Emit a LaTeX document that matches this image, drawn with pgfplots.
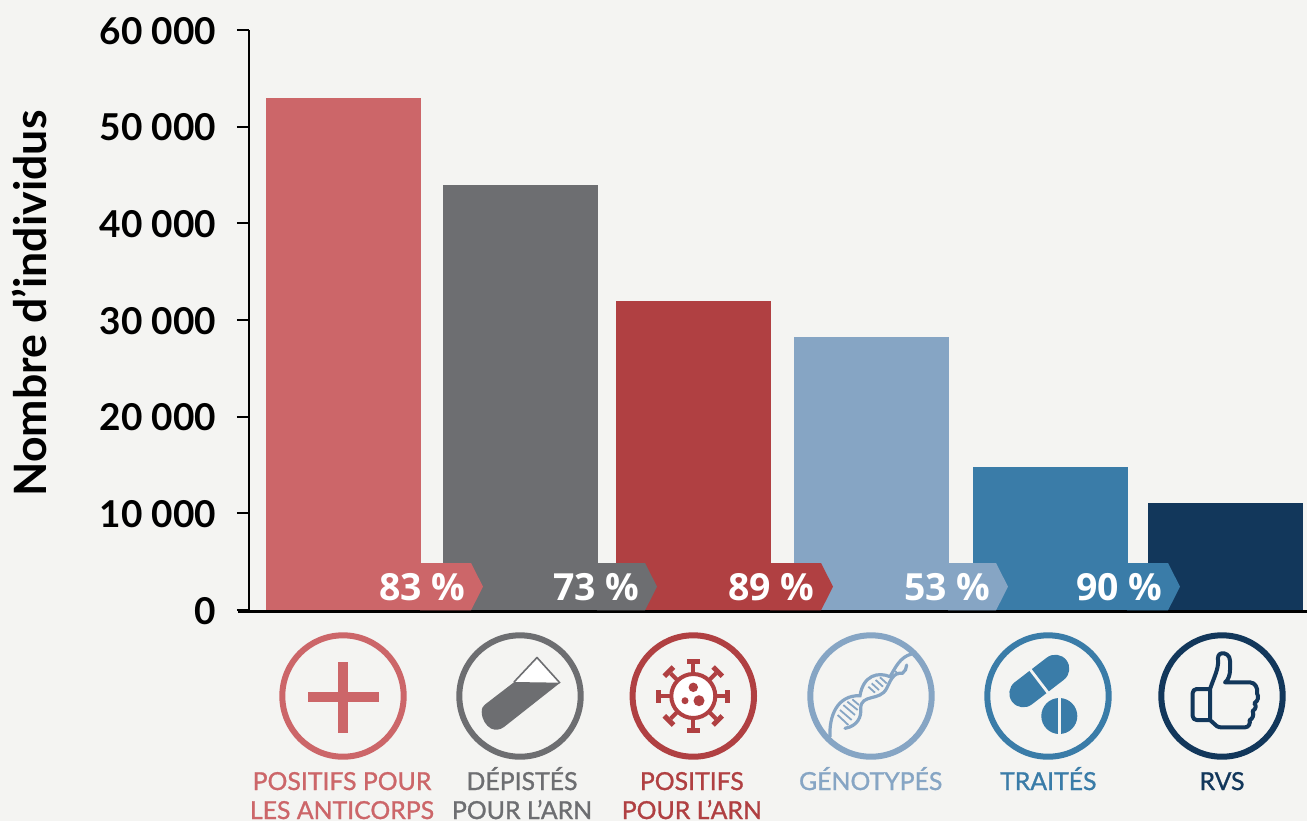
\documentclass[border=0pt]{standalone}
\usepackage{fontspec}
\usepackage{pgfplots}
\pgfplotsset{compat=1.18}
\setmainfont{Lato}
\newfontfamily\tagfont{Open Sans}[BoldFont={Open Sans Bold}]
\newfontfamily\stagefont{Lato}[FakeBold=1.1]
\definecolor{pageBg}{HTML}{F4F4F2}
\definecolor{cAnti}{HTML}{CC6669}
\definecolor{cDep}{HTML}{6D6E71}
\definecolor{cPos}{HTML}{B04042}
\definecolor{cGen}{HTML}{86A5C4}
\definecolor{cTrt}{HTML}{3A7CA8}
\definecolor{cRvs}{HTML}{12375B}
\newcommand{\ringicon}[2]{\draw[#2,line width=3pt] (#1,696) circle[radius=60.7];}
\newcommand{\steptag}[5]{% colour, bar edge, shoulder, text right edge, text
  \fill[#1] (#2,563) -- (#3,563) -- (#3+12,586.6) -- (#3,610.4) -- (#2,610.4) -- cycle;
  \node[anchor=base east,inner sep=0pt,text=white,font=\tagfont\fontsize{18.7}{20}\selectfont\bfseries] at (#4,600.5) {#5};}
\newcommand{\steplabel}[4]{% colour, x, line one, line two
  \node[anchor=base,inner sep=0pt,text=#1,font=\stagefont\fontsize{12.4}{14}\selectfont] at (#2,790) {#3};
  \node[anchor=base,inner sep=0pt,text=#1,font=\stagefont\fontsize{12.4}{14}\selectfont] at (#2,819) {#4};}
\newcommand{\thou}[1]{#1\hspace{0.25em}000}
\begin{document}
\begin{tikzpicture}
% the page: one unit of the scopes below is one pixel of the final image, y running downwards
\path[use as bounding box,fill=pageBg] (0pt,0pt) rectangle (653.5pt,-410.5pt);
\begin{axis}[
  at={(124.75pt,-305.6pt)},anchor=south west,
  scale only axis,width=528.75pt,height=290.6pt,
  xmin=249.5,xmax=1307,ymin=-120,ymax=60000,
  axis x line*=bottom,axis y line*=left,
  axis line style={-},
  x axis line style={line width=1.3pt},
  y axis line style={line width=1pt},
  xtick=\empty,
  scaled y ticks=false,
  ytick={0,10000,20000,30000,40000,50000,60000},
  yticklabels={0,\thou{10},\thou{20},\thou{30},\thou{40},\thou{50},\thou{60}},
  tick align=outside,major tick length=6.3pt,
  y tick style={black,line width=1.1pt},
  y tick label style={font=\fontsize{18.5}{20}\selectfont\bfseries,inner sep=0pt,xshift=-10.2pt,yshift=-0.4pt,anchor=east},
  ylabel={Nombre d’individus},
  ylabel style={at={(axis description cs:-0.208,0.5295)},anchor=center,font=\fontsize{22.3}{24}\selectfont\bfseries,inner sep=0pt},
  clip=false,
  axis on top,
]
\addplot[ybar,bar width=77.5pt,bar shift=0pt,fill=cAnti,draw=none] coordinates {(343.5,53000)};
\addplot[ybar,bar width=77.5pt,bar shift=0pt,fill=cDep,draw=none] coordinates {(520.5,44000)};
\addplot[ybar,bar width=77.5pt,bar shift=0pt,fill=cPos,draw=none] coordinates {(693.5,32000)};
\addplot[ybar,bar width=77.5pt,bar shift=0pt,fill=cGen,draw=none] coordinates {(871.5,28200)};
\addplot[ybar,bar width=77.5pt,bar shift=0pt,fill=cTrt,draw=none] coordinates {(1050.5,14800)};
\addplot[ybar,bar width=77.5pt,bar shift=0pt,fill=cRvs,draw=none] coordinates {(1225.3,11100)};
\end{axis}
\begin{scope}[x=0.5pt,y=-0.5pt]
\draw[black,line width=1.3pt] (238,611.2) -- (250,611.2);
% step-to-step percentages
\steptag{cAnti}{420}{471}{466}{83 \%}
\steptag{cDep}{597}{645}{640}{73 \%}
\steptag{cPos}{770}{821}{815}{89 \%}
\steptag{cGen}{948}{996}{990.7}{53 \%}
\steptag{cTrt}{1127}{1168}{1162.7}{90 \%}
% icon rings
\ringicon{343}{cAnti}
\ringicon{520}{cDep}
\ringicon{693.3}{cPos}
\ringicon{871}{cGen}
\ringicon{1048}{cTrt}
\ringicon{1222}{cRvs}
% plus sign
\fill[cAnti] (338,662) rectangle (348,733);
\fill[cAnti] (308,692) rectangle (379,702);
% test tube
\fill[white] (537,657.5) -- (514,682) -- (560,683) -- cycle;
\draw[cDep,line width=0.8pt,line join=round] (514,682) -- (537,657.5) -- (560,683);
\fill[cDep,line join=round] (514.3,682) -- (560.2,682.7) -- (504,727) .. controls (500,730) and (495,730.5) .. (491,728.5)
  .. controls (486,725.5) and (482,720) .. (481.7,712) .. controls (481.7,708) and (483,706) .. (485,704.5) -- cycle;
% virus
\begin{scope}[shift={(693.3,696)}]
  \foreach \a in {0,45,...,315}{
    \begin{scope}[rotate=\a]
      \fill[cPos] (-2,-20) rectangle (2,-32);
      \fill[cPos] (-6.5,-32) rectangle (6.5,-37);
    \end{scope}}
  \draw[cPos,line width=2pt,fill=white] (0,0) circle[radius=22];
  \fill[cPos] (0,-8.7) circle[radius=4.7];
  \fill[cPos] (5.7,4.7) circle[radius=5.5];
  \fill[cPos] (-8.3,4.7) circle[radius=3.5];
\end{scope}
% double helix
\begin{scope}[shift={(815,640)},scale=1/3]
  \draw[cGen,line width=0.9pt]
    (68,225)--(100,255) (75,210)--(110,240) (85,195)--(120,225) (97,185)--(128,210) (112,178)--(132,195)
    (160,140)--(180,158) (170,130)--(192,150) (182,120)--(204,140) (195,112)--(215,130)
    (240,93)--(252,104);
  \draw[cGen,line width=1.6pt,line cap=round]
    (45,290) .. controls (42,230) and (65,165) .. (135,167)
    .. controls (145,105) and (190,95) .. (225,110)
    .. controls (240,85) and (255,50) .. (290,42);
  \draw[cGen,line width=1.6pt,line cap=round]
    (90,265) .. controls (128,258) and (140,230) .. (137,205)
    .. controls (138,160) and (195,185) .. (215,145)
    .. controls (225,125) and (235,95) .. (262,100)
    .. controls (270,95) and (275,85) .. (275,75);
\end{scope}
% capsule and tablet
\draw[cTrt,line width=14pt,line cap=round] (1023.3,693.3) -- (1055.3,668.7);
\draw[pageBg,line width=1.4pt] (1030.2,669.5) -- (1048.2,693);
\fill[cTrt] (1059.3,716) circle[radius=18];
\draw[pageBg,line width=1.2pt] (1059.3,697) -- (1059.3,735);
% thumbs up
\begin{scope}[shift={(1175,640)},scale=1/3]
  \draw[cRvs,line width=2pt,rounded corners=2pt,line join=round] (105,147) -- (53,147) -- (53,240) -- (105,240);
  \draw[cRvs,line width=2pt,line join=round]
    (105,240) -- (125,258) .. controls (130,262) and (135,262) .. (140,262) -- (210,262)
    .. controls (222,262) and (226,250) .. (224,240)
    .. controls (232,238) and (238,225) .. (233,213)
    .. controls (244,207) and (244,195) .. (238,190)
    .. controls (250,182) and (252,170) .. (246,160)
    .. controls (250,145) and (240,127) .. (225,127) -- (150,127)
    .. controls (160,120) and (165,105) .. (165,90) -- (165,62)
    .. controls (165,45) and (150,38) .. (140,40)
    .. controls (130,42) and (128,50) .. (129,62)
    .. controls (131,85) and (118,110) .. (105,147) -- (105,240);
\end{scope}
% stage names
\steplabel{cAnti}{342}{POSITIFS POUR}{LES ANTICORPS}
\steplabel{cDep}{522}{DÉPISTÉS}{POUR L’ARN}
\steplabel{cPos}{691.8}{POSITIFS}{POUR L’ARN}
\steplabel{cGen}{870.7}{GÉNOTYPÉS}{}
\steplabel{cTrt}{1048.3}{TRAITÉS}{}
\steplabel{cRvs}{1222}{RVS}{}
\end{scope}
\end{tikzpicture}
\end{document}
